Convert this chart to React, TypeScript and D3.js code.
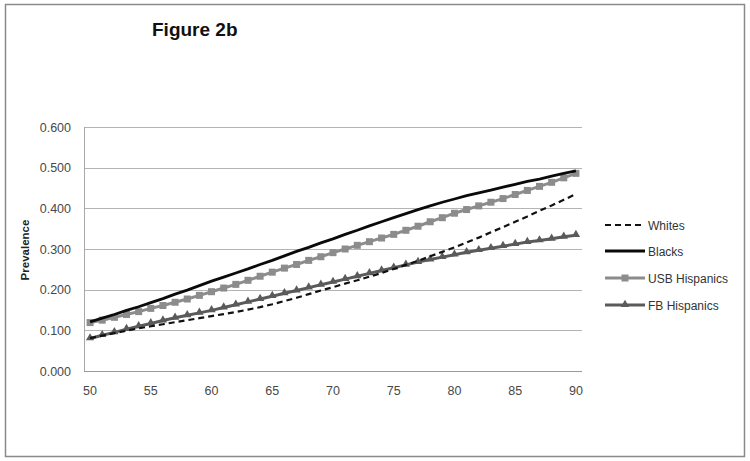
import React from "react";
import * as d3 from "d3";

const ages: number[] = d3.range(50, 91);
const xTickLabels: number[] = [50, 55, 60, 65, 70, 75, 80, 85, 90];
const yTicks: number[] = [0, 0.1, 0.2, 0.3, 0.4, 0.5, 0.6];

const whites: number[] = [
  0.081, 0.087, 0.093, 0.099, 0.105, 0.110, 0.115, 0.120, 0.125, 0.130,
  0.135, 0.140, 0.145, 0.151, 0.157, 0.164, 0.172, 0.180, 0.189, 0.198,
  0.206, 0.215, 0.223, 0.232, 0.241, 0.251, 0.261, 0.271, 0.282, 0.293,
  0.304, 0.316, 0.328, 0.341, 0.354, 0.367, 0.380, 0.394, 0.407, 0.421,
  0.435,
];
const blacks: number[] = [
  0.121, 0.130, 0.139, 0.149, 0.158, 0.168, 0.178, 0.189, 0.199, 0.210,
  0.221, 0.231, 0.241, 0.251, 0.262, 0.272, 0.283, 0.294, 0.304, 0.315,
  0.325, 0.336, 0.346, 0.357, 0.367, 0.377, 0.387, 0.397, 0.406, 0.415,
  0.423, 0.431, 0.438, 0.445, 0.452, 0.459, 0.466, 0.472, 0.479, 0.486,
  0.492,
];
const usbHispanics: number[] = [
  0.119, 0.125, 0.132, 0.139, 0.146, 0.154, 0.161, 0.169, 0.177, 0.186,
  0.195, 0.204, 0.213, 0.223, 0.233, 0.243, 0.253, 0.262, 0.272, 0.281,
  0.291, 0.300, 0.309, 0.318, 0.327, 0.336, 0.346, 0.356, 0.367, 0.377,
  0.388, 0.397, 0.406, 0.415, 0.424, 0.434, 0.444, 0.454, 0.464, 0.475,
  0.486,
];
const fbHispanics: number[] = [
  0.080, 0.088, 0.095, 0.103, 0.110, 0.117, 0.124, 0.131, 0.137, 0.143,
  0.149, 0.156, 0.163, 0.170, 0.177, 0.184, 0.191, 0.198, 0.205, 0.212,
  0.219, 0.226, 0.233, 0.240, 0.247, 0.254, 0.261, 0.268, 0.274, 0.280,
  0.286, 0.292, 0.297, 0.302, 0.307, 0.312, 0.317, 0.321, 0.325, 0.330,
  0.334,
];

const seriesNames = ["Whites", "Blacks", "USB Hispanics", "FB Hispanics"];

const FONT = "'Liberation Sans', Arial, sans-serif";

export default function App() {
  const W = 750, H = 461;
  const left = 84, right = 582, top = 127, bottom = 371;
  const x = d3.scalePoint<number>().domain(ages).range([left, right]).padding(0.5);
  const y = d3.scaleLinear().domain([0, 0.6]).range([bottom, top]);
  const line = d3.line<number>().x((_, i) => x(ages[i]) as number).y((d) => y(d));

  const triPath = d3.symbol().type(d3.symbolTriangle).size(30)() as string;

  const legendY = [225, 251, 278, 305];
  const lx0 = 605, lx1 = 645;

  return (
    <svg width={W} height={H} style={{ position: "absolute", left: 0, top: 0, background: "#fff" }}>
      <rect x={0} y={0} width={W} height={H} fill="#fff" />
      <rect x={5.5} y={4.5} width={739} height={452} fill="none" stroke="#8a8a8a" strokeWidth={1.5} />
      <text x={152} y={36} fontFamily={FONT} fontWeight="bold" fontSize={19} fill="#111">Figure 2b</text>

      {/* gridlines */}
      {yTicks.map((t) => (
        <line key={t} x1={left} x2={right} y1={Math.round(y(t)) + 0.5} y2={Math.round(y(t)) + 0.5}
          stroke={t === 0 ? "#9a9a9a" : "#b4b4b4"} strokeWidth={1} />
      ))}
      <line x1={left + 0.5} x2={left + 0.5} y1={top} y2={bottom} stroke="#a8a8a8" strokeWidth={1} />

      {/* y tick labels */}
      {yTicks.map((t) => (
        <text key={t} x={71} y={y(t) + 4.5} textAnchor="end" fontFamily={FONT} fontSize={12.5} fill="#484848">
          {d3.format(".3f")(t)}
        </text>
      ))}
      <text transform={`translate(29,${250}) rotate(-90)`} textAnchor="middle" fontFamily={FONT}
        fontWeight="bold" fontSize={11.5} fill="#222">Prevalence</text>

      {/* x tick labels */}
      {xTickLabels.map((t) => (
        <text key={t} x={x(t) as number} y={395} textAnchor="middle" fontFamily={FONT} fontSize={12.5} fill="#484848">
          {t}
        </text>
      ))}

      {/* series */}
      <path d={line(usbHispanics) as string} fill="none" stroke="#8c8c8c" strokeWidth={3} />
      {usbHispanics.map((v, i) => (
        <rect key={"u" + i} x={(x(ages[i]) as number) - 3.5} y={y(v) - 3.5} width={7} height={7} fill="#8c8c8c" />
      ))}
      <path d={line(fbHispanics) as string} fill="none" stroke="#5a5a5a" strokeWidth={3} />
      {fbHispanics.map((v, i) => (
        <path key={"f" + i} d={triPath} transform={`translate(${x(ages[i])},${y(v) - 0.5})`} fill="#5a5a5a" />
      ))}
      <path d={line(whites) as string} fill="none" stroke="#111" strokeWidth={2.2} strokeDasharray="6,4" />
      <path d={line(blacks) as string} fill="none" stroke="#0a0a0a" strokeWidth={2.8} />

      {/* legend */}
      <line x1={lx0} x2={lx1} y1={legendY[0]} y2={legendY[0]} stroke="#111" strokeWidth={2.2} strokeDasharray="6,4" />
      <line x1={lx0} x2={lx1} y1={legendY[1]} y2={legendY[1]} stroke="#0a0a0a" strokeWidth={2.8} />
      <line x1={lx0} x2={lx1} y1={legendY[2]} y2={legendY[2]} stroke="#8c8c8c" strokeWidth={3} />
      <rect x={(lx0 + lx1) / 2 - 3.5} y={legendY[2] - 3.5} width={7} height={7} fill="#8c8c8c" />
      <line x1={lx0} x2={lx1} y1={legendY[3]} y2={legendY[3]} stroke="#5a5a5a" strokeWidth={3} />
      <path d={triPath} transform={`translate(${(lx0 + lx1) / 2},${legendY[3] - 0.5})`} fill="#5a5a5a" />
      {seriesNames.map((n, i) => (
        <text key={n} x={648} y={legendY[i] + 4.5} fontFamily={FONT} fontSize={12} fill="#333">{n}</text>
      ))}
    </svg>
  );
}
